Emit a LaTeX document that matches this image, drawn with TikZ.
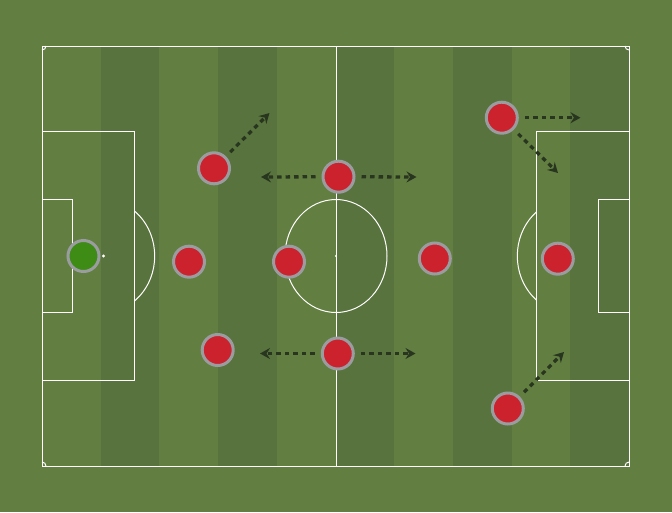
\documentclass[tikz,border=0pt]{standalone}
\usetikzlibrary{arrows.meta,shadows}
\definecolor{grassA}{HTML}{627F41}
\definecolor{grassB}{HTML}{58733D}
\definecolor{kitred}{HTML}{CC222E}
\definecolor{kitgreen}{HTML}{3E8C16}
\definecolor{ringgray}{HTML}{9A9CA0}
\definecolor{arrowdark}{HTML}{29361F}
\tikzset{
  pline/.style={draw=white, line width=1pt},
  player/.style={circle, draw=ringgray, line width=3pt, minimum size=31pt, inner sep=0pt,
    drop shadow={shadow xshift=0.8pt, shadow yshift=-1.2pt, opacity=0.35}},
  redp/.style={player, fill=kitred},
  gkp/.style={player, fill=kitgreen},
  run/.style={draw=arrowdark, line width=3.3pt, dash pattern=on 4.5pt off 4pt,
    -{Stealth[length=10pt,width=11pt,inset=3.5pt]}, shorten <=6pt}
}
\begin{document}
\begin{tikzpicture}[x=1pt,y=-1pt]
\useasboundingbox (0,0) rectangle (672,512);
\fill[grassA] (0,0) rectangle (672,512);
% stripes
\foreach \i in {1,3,5,7,9} {
  \fill[grassB] ({42+\i*58.7},46) rectangle ({42+(\i+1)*58.7},466);
}
% pitch lines
\draw[pline] (42,46) rectangle (629,466);
\draw[pline] (336,46) -- (336,466);
\draw[pline] (336,256) ellipse [x radius=51, y radius=56.5];
\fill[white] (336,256) circle (1.2);
% left side
\draw[pline] (42,131) rectangle (134.5,380.5);
\draw[pline] (42,199.5) rectangle (72.8,312.5);
\fill[white] (103.5,256) circle (1.6);
\begin{scope}
  \clip (134.5,0) rectangle (200,512);
  \draw[pline] (103.5,256) ellipse [x radius=51.2, y radius=56.5];
\end{scope}
% right side
\draw[pline] (629,131) rectangle (536.5,380.5);
\draw[pline] (629,199.5) rectangle (598.2,312.5);
\fill[white] (568.5,256) circle (1.2);
\begin{scope}
  \clip (470,0) rectangle (536.5,512);
  \draw[pline] (568.5,256) ellipse [x radius=51.2, y radius=56.5];
\end{scope}
% corner arcs
\draw[pline] (46,46) arc[start angle=0, end angle=90, radius=4];
\draw[pline] (625,46) arc[start angle=180, end angle=90, radius=4];
\draw[pline] (46,466) arc[start angle=0, end angle=-90, radius=4];
\draw[pline] (625,466) arc[start angle=180, end angle=270, radius=4];

% run targets
\coordinate (t1) at (269.5,113);
\coordinate (t2l) at (261,177);
\coordinate (t2r) at (416.5,177);
\coordinate (t3l) at (260,353.5);
\coordinate (t3r) at (415.5,353.5);
\coordinate (t4r) at (580.5,117.7);
\coordinate (t4d) at (558,173);
\coordinate (t5) at (564,352);

% players
\node[gkp] (gk) at (83.5,256) {};
\node[redp] (lw) at (214,168.3) {};
\node[redp] (lb) at (189,261.7) {};
\node[redp] (lm) at (289,261.7) {};
\node[redp] (lbot) at (217.7,350) {};
\node[redp] (mt) at (338.5,176.7) {};
\node[redp] (mb) at (337.8,353.5) {};
\node[redp] (rm) at (434.8,258.5) {};
\node[redp] (rt) at (501.8,117.7) {};
\node[redp] (rst) at (557.8,258.7) {};
\node[redp] (rb) at (507.8,408.5) {};

% runs
\draw[run] (lw) -- (t1);
\draw[run] (mt) -- (t2l);
\draw[run] (mt) -- (t2r);
\draw[run] (mb) -- (t3l);
\draw[run] (mb) -- (t3r);
\draw[run] (rt) -- (t4r);
\draw[run] (rt) -- (t4d);
\draw[run] (rb) -- (t5);
\end{tikzpicture}
\end{document}
